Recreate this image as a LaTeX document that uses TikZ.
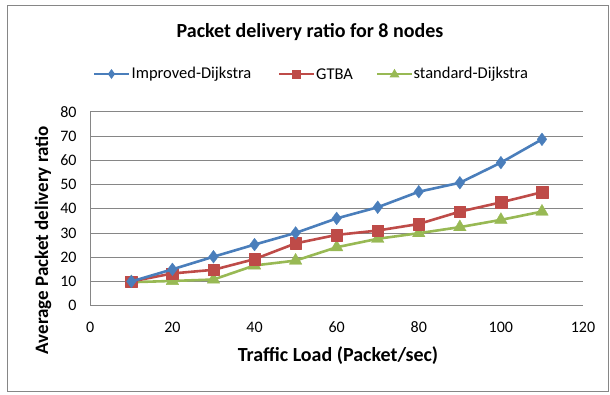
\documentclass[tikz,border=0pt]{standalone}
\usepackage{fontspec}
\setmainfont{Carlito}
\usetikzlibrary{plotmarks,calc}
\definecolor{sblue}{HTML}{4A7EBB}
\definecolor{sred}{HTML}{BE4B48}
\definecolor{sgreen}{HTML}{98B954}
\definecolor{gridc}{HTML}{868686}
\tikzset{
  gridline/.style={draw=gridc, line width=0.9pt},
  ticklab/.style={font=\fontsize{16}{18}\selectfont, text=black, inner sep=0pt},
  axtitle/.style={font=\fontsize{20}{22}\selectfont\bfseries, inner sep=0pt},
  legtext/.style={font=\fontsize{16.5}{18}\selectfont, inner sep=0pt, anchor=west},
  series/.style={line width=2.6pt, line join=round},
}
\begin{document}
\begin{tikzpicture}[x=1pt,y=-1pt]
\useasboundingbox (0,0) rectangle (610,394);
\draw[draw=gridc, line width=1pt] (7,5) rectangle (608.5,391.5);
% title
\node[font=\fontsize{20}{22}\selectfont\bfseries, inner sep=0pt] (title) at (310,32) {Packet delivery ratio for 8 nodes};
% legend
\coordinate (lb1) at (94,74); \coordinate (lb2) at (129,74);
\coordinate (lr1) at (279,74); \coordinate (lr2) at (314,74);
\coordinate (lg1) at (377,74); \coordinate (lg2) at (412,74);
\draw[series, draw=sblue, line width=2.4pt] (lb1) -- (lb2);
\draw[series, draw=sred, line width=2.4pt] (lr1) -- (lr2);
\draw[series, draw=sgreen, line width=2.4pt] (lg1) -- (lg2);
\node[legtext] (leg1) at (131.5,74.5) {Improved-Dijkstra};
\node[legtext] (leg2) at (316,74.5) {GTBA};
\node[legtext] (leg3) at (413.5,74.5) {standard-Dijkstra};
\path (lb1) -- (lb2) coordinate[midway] (mb);
\path (lr1) -- (lr2) coordinate[midway] (mr);
\path (lg1) -- (lg2) coordinate[midway] (mg);
\fill[sblue] ($(mb)+(0,-5)$) -- ++(3.6,5) -- ++(-3.6,5) -- ++(-3.6,-5) -- cycle;
\fill[sred] ($(mr)+(-4.5,-4.5)$) rectangle ++(9,9);
\fill[sgreen] ($(mg)+(0,-5.2)$) -- ++(5,8.6) -- ++(-10,0) -- cycle;
% plot area
\begin{scope}[shift={(90.3,305.7)}, x=4.106pt, y=2.425pt]
  \foreach \v in {10,20,...,80} \draw[gridline] (0,\v) -- (120.1,\v);
  \draw[gridline] (0,0) -- (120.1,0);
  \draw[gridline] (0,0) -- (0,80);
  \foreach \v in {0,10,...,80} \node[ticklab, anchor=east] at (-3.3,\v) {\v};
  \foreach \v in {0,20,...,120} \node[ticklab] at (\v,-8.9) {\v};
  \draw[series, draw=sgreen] plot[mark=triangle*, mark size=7.3, mark options={fill=sgreen, draw=sgreen, line width=0.3pt}] coordinates {(10,9.7) (20,10.2) (30,10.8) (40,16.6) (50,18.6) (60,24.1) (70,27.6) (80,29.9) (90,32.4) (100,35.4) (110,38.8)};
  \draw[series, draw=sred] plot[mark=square*, mark size=5.8, mark options={fill=sred, draw=sred, line width=0.3pt}] coordinates {(10,10) (20,13.3) (30,14.8) (40,19.2) (50,25.7) (60,29.2) (70,31) (80,33.7) (90,38.8) (100,42.6) (110,46.8)};
  \draw[series, draw=sblue] plot[mark=diamond*, mark size=6.4, mark options={fill=sblue, draw=sblue, line width=0.3pt}] coordinates {(10,10) (20,15) (30,20.2) (40,25.2) (50,30) (60,36) (70,40.6) (80,47) (90,50.7) (100,59) (110,68.6)};
\end{scope}
% axis titles
\node[axtitle] (xt) at (338,356) {Traffic Load (Packet/sec)};
\node[axtitle, font=\fontsize{19}{21}\selectfont\bfseries, rotate=90] (yt) at (43,240) {Average Packet delivery ratio};
\end{tikzpicture}
\end{document}
